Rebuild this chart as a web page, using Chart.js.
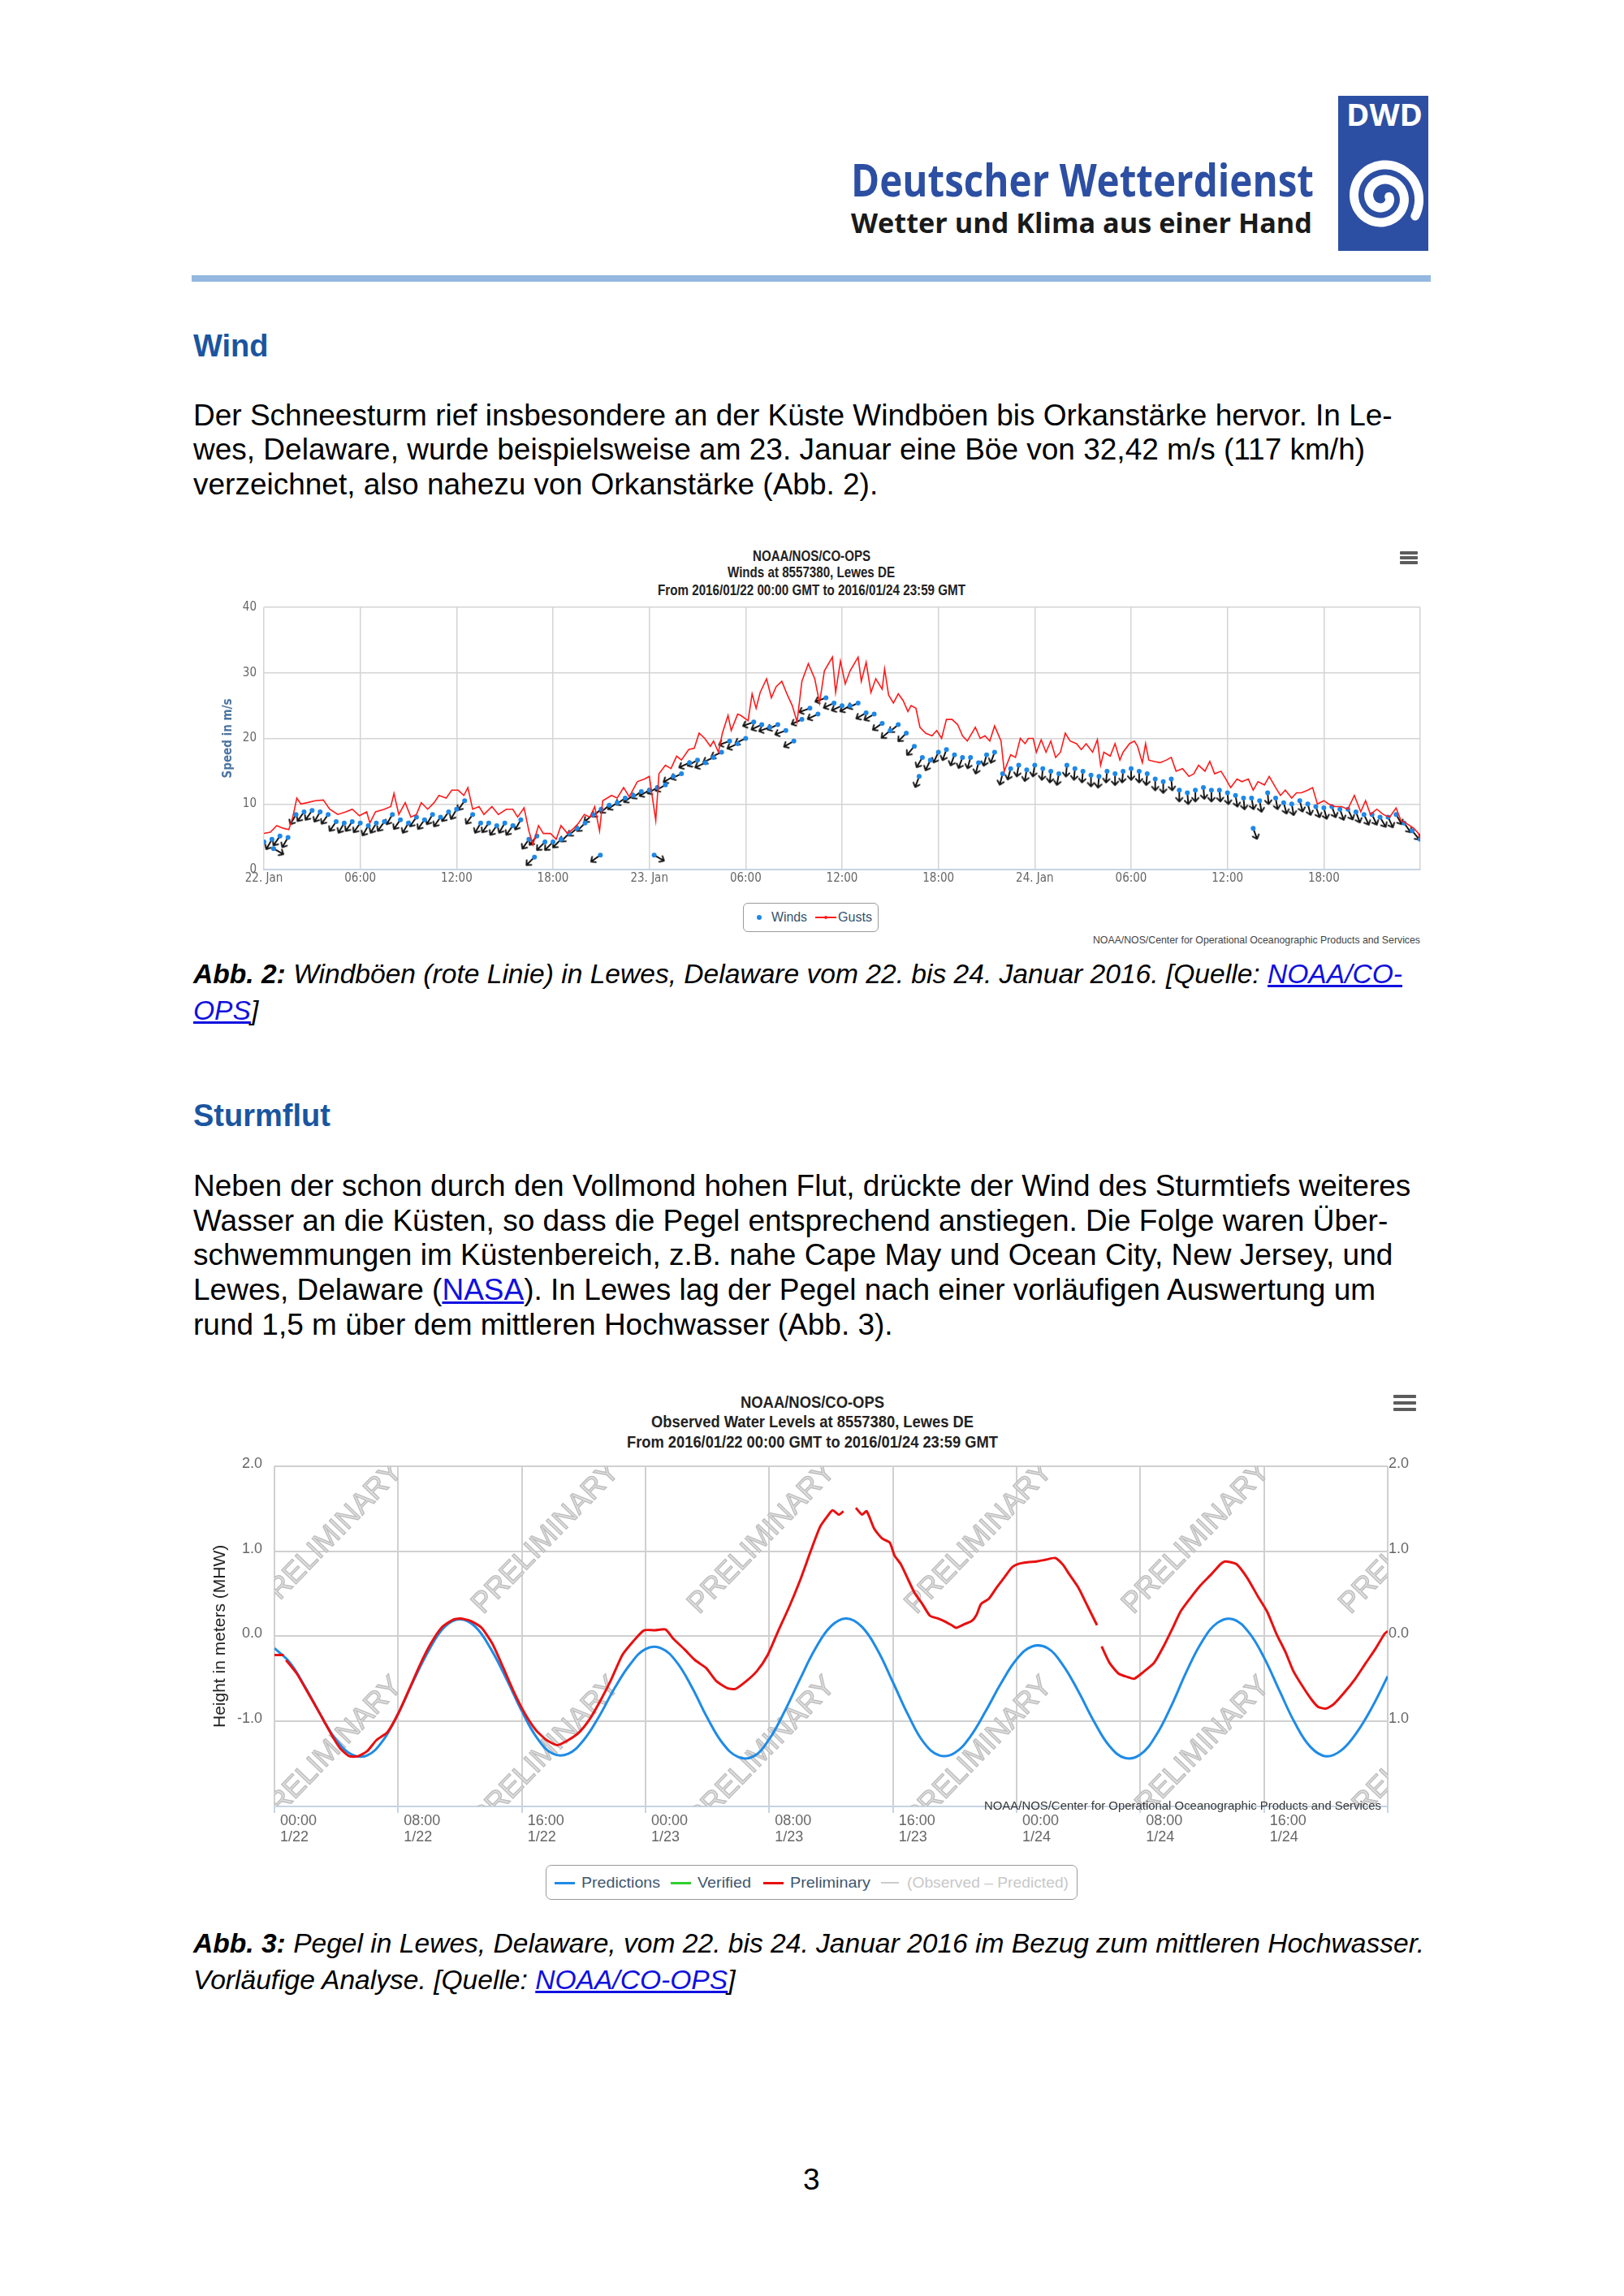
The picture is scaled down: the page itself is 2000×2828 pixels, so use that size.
<!DOCTYPE html>
<html>
<head>
<meta charset="utf-8">
<script src="https://cdn.jsdelivr.net/npm/chart.js@4.4.1/dist/chart.umd.min.js"></script>
<style>
html, body { margin: 0; padding: 0; background: #fff; }
#page { position: relative; width: 2000px; height: 2828px; overflow: hidden; font-family: 'Liberation Sans', Arial, sans-serif; color: #000; }
.abs { position: absolute; white-space: nowrap; }
.body { font-size: 37px; line-height: 42.6px; left: 238px; }
.h { font-size: 38px; font-weight: bold; color: #1a55a0; left: 238px; line-height: 44px; }
.cap { font-size: 33.6px; line-height: 45px; font-style: italic; left: 238px; }
a { color: #1010e0; text-decoration: underline; }
.fit { position: absolute; white-space: nowrap; line-height: 1; transform-origin: 0 50%; }
canvas { position: absolute; }
.bar { position: absolute; background: #5c5c5c; border-radius: 1px; }
.legbox { position: absolute; border: 1.5px solid #9a9a9a; border-radius: 6px; box-sizing: border-box; }
.legline { position: absolute; height: 3px; }
</style>
</head>
<body>
<div id="page">

<!-- Kopf mit Logo -->
<svg class="abs" style="left:0;top:0" width="2000" height="360">
  <text x="1048" y="242" font-family="Open Sans" font-weight="700" font-size="56" fill="#2c4fa3" textLength="570" lengthAdjust="spacingAndGlyphs">Deutscher Wetterdienst</text>
  <text x="1048" y="287" font-family="Open Sans" font-weight="700" font-size="34" fill="#1a1a1a" textLength="568" lengthAdjust="spacingAndGlyphs">Wetter und Klima aus einer Hand</text>
  <rect x="1648" y="118" width="111" height="191" fill="#2c4fa3"/>
  <text x="1658" y="155" font-family="Open Sans" font-weight="700" font-size="37" fill="#fff" textLength="94" lengthAdjust="spacingAndGlyphs">DWD</text>
  <path id="spiral" d="" fill="none" stroke="#fff" stroke-width="11" stroke-linecap="round"/>
  <rect x="236" y="339" width="1526" height="8" fill="#94b8e0"/>
</svg>

<!-- Wind -->
<div class="abs h" style="top:404px">Wind</div>
<div class="abs body" style="top:491px">Der Schneesturm rief insbesondere an der Küste Windböen bis Orkanstärke hervor. In Le-</div>
<div class="abs body" style="top:533px">wes, Delaware, wurde beispielsweise am 23. Januar eine Böe von 32,42 m/s (117 km/h)</div>
<div class="abs body" style="top:576px">verzeichnet, also nahezu von Orkanstärke (Abb. 2).</div>

<div class="fit" data-w="145" style="left:927px;top:675px;font-size:19px;font-weight:bold;color:#222">NOAA/NOS/CO-OPS</div>
<div class="fit" data-w="206" style="left:896px;top:695px;font-size:19px;font-weight:bold;color:#222">Winds at 8557380, Lewes DE</div>
<div class="fit" data-w="379" style="left:810px;top:717px;font-size:19px;font-weight:bold;color:#222">From 2016/01/22 00:00 GMT to 2016/01/24 23:59 GMT</div>
<div class="bar" style="left:1724px;top:679px;width:22px;height:3.5px"></div>
<div class="bar" style="left:1724px;top:685px;width:22px;height:3.5px"></div>
<div class="bar" style="left:1724px;top:691px;width:22px;height:3.5px"></div>

<canvas id="windChart" width="1540" height="370" style="left:234px;top:730px"></canvas>

<div class="legbox" style="left:915px;top:1112px;width:167px;height:36px"></div>
<div class="abs" style="left:932px;top:1127px;width:6px;height:6px;border-radius:3px;background:#1e88e8"></div>
<div class="fit" data-w="44" style="left:950px;top:1122px;font-size:16px;color:#34516f">Winds</div>
<div class="legline" style="left:1004px;top:1129px;width:26px;height:2px;background:#ff1a1a"></div>
<div class="abs" style="left:1015px;top:1128px;width:4px;height:4px;border-radius:2px;background:#ff1a1a"></div>
<div class="fit" data-w="42" style="left:1032px;top:1122px;font-size:16px;color:#34516f">Gusts</div>
<div class="fit" data-w="403" style="left:1346px;top:1151px;font-size:13px;color:#444">NOAA/NOS/Center for Operational Oceanographic Products and Services</div>

<div class="abs cap" style="top:1177px"><b>Abb. 2:</b> Windböen (rote Linie) in Lewes, Delaware vom 22. bis 24. Januar 2016. [Quelle: <a>NOAA/CO-</a></div>
<div class="abs cap" style="top:1222px"><a>OPS</a>]</div>

<!-- Sturmflut -->
<div class="abs h" style="top:1352px">Sturmflut</div>
<div class="abs body" style="top:1440px">Neben der schon durch den Vollmond hohen Flut, drückte der Wind des Sturmtiefs weiteres</div>
<div class="abs body" style="top:1483px">Wasser an die Küsten, so dass die Pegel entsprechend anstiegen. Die Folge waren Über-</div>
<div class="abs body" style="top:1525px">schwemmungen im Küstenbereich, z.B. nahe Cape May und Ocean City, New Jersey, und</div>
<div class="abs body" style="top:1568px">Lewes, Delaware (<a>NASA</a>). In Lewes lag der Pegel nach einer vorläufigen Auswertung um</div>
<div class="abs body" style="top:1611px">rund 1,5 m über dem mittleren Hochwasser (Abb. 3).</div>

<div class="fit" data-w="177" style="left:912px;top:1717px;font-size:20px;font-weight:bold;color:#222">NOAA/NOS/CO-OPS</div>
<div class="fit" data-w="397" style="left:802px;top:1741px;font-size:20px;font-weight:bold;color:#222">Observed Water Levels at 8557380, Lewes DE</div>
<div class="fit" data-w="457" style="left:772px;top:1766px;font-size:20px;font-weight:bold;color:#222">From 2016/01/22 00:00 GMT to 2016/01/24 23:59 GMT</div>
<div class="bar" style="left:1716px;top:1718px;width:28px;height:4px"></div>
<div class="bar" style="left:1716px;top:1726px;width:28px;height:4px"></div>
<div class="bar" style="left:1716px;top:1734px;width:28px;height:4px"></div>

<canvas id="waterChart" width="1540" height="500" style="left:234px;top:1780px"></canvas>
<div class="fit" data-w="489" style="left:1212px;top:2216px;font-size:15px;color:#383838">NOAA/NOS/Center for Operational Oceanographic Products and Services</div>

<div class="legbox" style="left:672px;top:2297px;width:655px;height:43px;border-radius:7px"></div>
<div class="legline" style="left:683px;top:2318px;width:25px;background:#1e8be6"></div>
<div class="fit" data-w="97" style="left:716px;top:2309px;font-size:19px;color:#3e576f">Predictions</div>
<div class="legline" style="left:826px;top:2318px;width:25px;background:#2fd02f"></div>
<div class="fit" data-w="66" style="left:859px;top:2309px;font-size:19px;color:#3e576f">Verified</div>
<div class="legline" style="left:940px;top:2318px;width:25px;background:#e81010"></div>
<div class="fit" data-w="99" style="left:973px;top:2309px;font-size:19px;color:#3e576f">Preliminary</div>
<div class="legline" style="left:1085px;top:2318px;width:22px;height:2px;background:#cccccc"></div>
<div class="fit" data-w="199" style="left:1117px;top:2309px;font-size:19px;color:#c8c8c8">(Observed – Predicted)</div>

<div class="abs cap" style="top:2371px"><b>Abb. 3:</b> Pegel in Lewes, Delaware, vom 22. bis 24. Januar 2016 im Bezug zum mittleren Hochwasser.</div>
<div class="abs cap" style="top:2416px">Vorläufige Analyse. [Quelle: <a>NOAA/CO-OPS</a>]</div>

<div class="abs body" style="left:989px;top:2664px">3</div>
</div>

<script>
// ---- Abb. 2: Wind (Stunden ab 22.01. 00:00 GMT, m/s) ----
const windTickLabels = ['22. Jan', '06:00', '12:00', '18:00', '23. Jan', '06:00', '12:00', '18:00', '24. Jan', '06:00', '12:00', '18:00', ''];

const gustHours = [
  0, 0.4, 0.8, 1.2, 1.55, 1.8, 2.05, 2.3, 2.7, 3.2, 3.7, 4.1, 4.6, 5.1, 5.5, 5.95, 6.4, 6.6, 6.95, 7.5,
  7.9, 8.1, 8.4, 8.8, 9.15, 9.5, 9.8, 10.2, 10.6, 10.9, 11.35, 11.7, 12.1, 12.45, 12.7, 13.0, 13.4, 13.7, 14.2, 14.6,
  15.1, 15.5, 15.8, 16.2, 16.5, 16.75, 17.1, 17.4, 17.85, 18.2, 18.5, 18.9, 19.3, 19.6, 19.95, 20.3, 20.6, 20.9, 21.1, 21.65,
  22.0, 22.4, 22.75, 23.25, 23.7, 24.0, 24.4, 24.6, 25.0, 25.35, 25.7, 26.0, 26.45, 26.8, 27.1, 27.45, 27.8, 28.0, 28.3, 28.55,
  28.9, 29.1, 29.5, 29.7, 30.15, 30.4, 30.65, 30.9, 31.3, 31.6, 31.9, 32.25, 32.6, 32.9, 33.2, 33.5, 33.9, 34.3, 34.6, 34.9,
  35.4, 35.6, 35.9, 36.2, 36.5, 37.0, 37.2, 37.5, 37.8, 38.1, 38.5, 38.65, 38.9, 39.2, 39.5, 39.8, 40.1, 40.3, 40.6, 40.85,
  41.2, 41.6, 41.9, 42.2, 42.5, 42.85, 43.2, 43.5, 43.8, 44.3, 44.6, 44.9, 45.2, 45.5, 45.9, 46.1, 46.5, 46.8, 47.1, 47.4,
  47.6, 47.9, 48.1, 48.4, 48.7, 49.0, 49.3, 49.6, 49.9, 50.2, 50.6, 50.9, 51.2, 51.6, 51.9, 52.1, 52.3, 52.7, 53.0, 53.3,
  53.5, 53.9, 54.2, 54.4, 54.7, 54.9, 55.1, 55.4, 55.8, 56.2, 56.5, 56.8, 57.2, 57.6, 57.9, 58.2, 58.6, 58.9, 59.2, 59.6,
  59.9, 60.2, 60.6, 60.9, 61.3, 61.6, 61.9, 62.3, 62.6, 63.0, 63.3, 63.6, 64.0, 64.3, 64.6, 65.0, 65.3, 65.6, 66.0, 66.3,
  66.7, 67.1, 67.5, 67.9, 68.3, 68.6, 68.9, 69.3, 69.7, 70.1, 70.5, 70.8, 71.1, 71.6, 71.9, 72.0
];
const gustSpeeds = [
  5.5, 5.7, 6.7, 6.3, 6.1, 8.0, 10.9, 10.0, 10.2, 10.5, 10.6, 9.2, 8.4, 8.8, 9.2, 8.2, 8.8, 7.1, 8.8, 9.2,
  9.6, 11.6, 8.4, 10.2, 8.0, 8.4, 10.2, 9.2, 10.2, 11.3, 10.9, 12.1, 12.1, 11.3, 12.5, 9.2, 9.6, 8.4, 9.6, 8.4,
  9.2, 9.2, 8.0, 9.4, 5.9, 3.8, 6.7, 5.5, 5.5, 4.6, 6.7, 5.5, 6.3, 7.1, 8.4, 8.0, 9.6, 5.9, 10.5, 11.3,
  10.9, 12.5, 11.1, 13.4, 13.8, 14.2, 7.5, 14.6, 15.9, 15.4, 17.3, 16.7, 18.3, 18.5, 20.8, 20.0, 18.8, 19.6, 17.9, 20.8,
  23.5, 21.2, 23.7, 23.5, 22.7, 26.8, 24.6, 27.0, 29.1, 26.2, 27.9, 28.7, 26.6, 25.0, 22.5, 28.7, 31.4, 29.1, 25.4, 30.3,
  32.4, 27.0, 31.8, 28.3, 30.3, 32.4, 28.7, 31.6, 27.0, 29.1, 27.5, 30.6, 26.6, 25.4, 26.8, 25.8, 24.1, 25.0, 24.6, 21.7,
  20.8, 20.4, 21.2, 20.0, 22.9, 22.9, 22.1, 20.4, 19.6, 21.7, 20.0, 20.4, 19.6, 21.9, 19.6, 15.0, 17.5, 17.1, 20.0, 19.2,
  20.0, 20.0, 17.9, 19.8, 17.9, 19.6, 17.1, 17.9, 20.8, 19.6, 19.2, 18.3, 19.2, 17.9, 19.8, 15.9, 17.9, 17.3, 19.2, 16.7,
  17.9, 19.2, 19.6, 18.8, 16.3, 19.2, 16.7, 16.5, 16.3, 16.7, 17.1, 15.0, 15.4, 14.2, 14.6, 15.9, 15.0, 16.5, 14.6, 15.0,
  13.8, 12.5, 13.8, 13.4, 13.8, 12.1, 13.4, 12.9, 14.2, 12.5, 11.3, 12.1, 10.9, 11.7, 11.7, 12.1, 12.5, 10.0, 10.5, 10.0,
  9.6, 9.6, 9.2, 11.3, 8.8, 10.5, 8.4, 9.2, 8.4, 8.0, 9.4, 7.5, 7.1, 6.3, 5.5, 4.6
];

const windHours = [
  0, 0.5, 0.6, 1, 1.5, 2, 2.5, 3, 3.5, 4, 4.5, 5, 5.5, 6, 6.5, 7, 7.5, 8, 8.5, 9,
  9.5, 10, 10.5, 11, 11.5, 12, 12.5, 13, 13.5, 14, 14.5, 15, 15.5, 16, 16.5, 16.85, 17, 17.5, 18, 18.5,
  19, 19.5, 20, 20.5, 20.95, 21, 21.5, 22, 22.5, 23, 23.5, 24, 24.3, 24.5, 25, 25.5, 26, 26.5, 27, 27.5,
  28, 28.5, 29, 29.5, 30, 30.5, 31, 31.5, 32, 32.5, 33, 33.5, 34, 34.5, 35, 35.5, 36, 36.5, 37, 37.5,
  38, 38.5, 39, 39.5, 40, 40.5, 40.8, 41, 41.5, 42, 42.5, 43, 43.5, 44, 44.5, 45, 45.5, 46, 46.5, 47,
  47.5, 48, 48.5, 49, 49.5, 50, 50.5, 51, 51.5, 52, 52.5, 53, 53.5, 54, 54.5, 55, 55.5, 56, 56.5, 57,
  57.5, 58, 58.5, 59, 59.5, 60, 60.5, 61, 61.5, 61.6, 62, 62.5, 63, 63.5, 64, 64.5, 65, 65.5, 66, 66.5,
  67, 67.5, 68, 68.5, 69, 69.5, 70, 70.5, 71, 71.5, 72
];
const windSpeeds = [
  4.2, 4.6, 3.2, 5.1, 4.9, 8.4, 8.8, 9.0, 8.8, 8.4, 7.3, 7.1, 7.3, 7.1, 6.7, 7.1, 7.3, 8.4, 7.6, 7.1,
  8.0, 7.6, 8.4, 8.0, 8.8, 9.2, 10.5, 8.4, 7.1, 7.1, 6.7, 7.1, 6.7, 7.6, 4.6, 1.9, 5.1, 4.2, 4.2, 4.6,
  5.5, 6.3, 7.1, 8.4, 2.2, 9.2, 9.8, 10.2, 10.9, 11.3, 11.9, 12.1, 2.2, 12.5, 12.9, 14.2, 14.6, 16.3, 16.7, 16.3,
  17.1, 17.9, 19.6, 19.2, 20.0, 22.5, 22.1, 21.7, 22.1, 21.2, 19.6, 22.9, 24.6, 23.7, 26.2, 25.4, 25.0, 25.0, 25.4, 23.9,
  23.7, 22.3, 21.2, 22.1, 20.8, 18.8, 14.2, 17.1, 16.7, 17.9, 18.3, 17.5, 17.1, 17.1, 16.3, 17.5, 17.9, 14.6, 15.4, 15.9,
  15.2, 15.9, 15.4, 15.0, 14.6, 15.9, 15.4, 15.0, 14.4, 14.2, 15.0, 14.6, 15.0, 15.4, 15.0, 14.6, 13.8, 13.4, 13.8, 12.1,
  11.7, 12.1, 12.5, 12.1, 12.1, 11.7, 11.3, 10.9, 10.9, 6.3, 10.5, 11.7, 10.9, 10.2, 10.0, 10.5, 10.0, 9.6, 9.4, 9.6,
  9.2, 9.2, 8.8, 8.4, 8.4, 8.0, 8.0, 8.4, 7.1, 5.9, 4.6
];
// Windrichtung (woher, Grad)
const windDirs = [
  35, 30, 300, 35, 30, 30, 35, 35, 30, 35, 35, 30, 35, 35, 30, 30, 35, 30, 35, 30,
  35, 35, 30, 35, 35, 30, 35, 35, 30, 35, 35, 30, 35, 30, 35, 45, 40, 45, 45, 45,
  45, 50, 45, 50, 55, 50, 50, 55, 55, 55, 55, 60, 300, 60, 60, 60, 65, 65, 60, 65,
  65, 65, 70, 65, 65, 70, 65, 70, 65, 70, 60, 65, 70, 65, 70, 65, 65, 60, 65, 60,
  60, 55, 50, 50, 45, 40, 20, 30, 25, 25, 20, 20, 20, 15, 15, 15, 20, 15, 15, 10,
  10, 10, 5, 5, 10, 5, 5, 5, 0, 5, 5, 0, 5, 0, 0, 5, 0, 0, 355, 0,
  355, 0, 355, 0, 355, 355, 350, 355, 350, 340, 350, 355, 350, 345, 350, 345, 345, 340, 345, 340,
  340, 335, 340, 335, 335, 330, 335, 330, 325, 320, 315
];

// ---- Abb. 3: Pegel (Stunden ab 22.01. 00:00 GMT, m über MHW) ----
const waterTickLabels = [['00:00', '1/22'], ['08:00', '1/22'], ['16:00', '1/22'], ['00:00', '1/23'], ['08:00', '1/23'], ['16:00', '1/23'], ['00:00', '1/24'], ['08:00', '1/24'], ['16:00', '1/24'], ''];
const heightTickLabels = ['', '-1.0', '0.0', '1.0', '2.0'];

const predHours = [
  0, 1, 2, 3, 4, 5, 6, 7, 8, 9, 10, 11, 12, 13, 14, 15, 16, 17, 18, 19, 20, 21, 22, 23, 24,
  25, 26, 27, 28, 29, 30, 31, 32, 33, 34, 35, 36, 37, 38, 39, 40, 41, 42, 43, 44, 45, 46, 47, 48,
  49, 50, 51, 52, 53, 54, 55, 56, 57, 58, 59, 60, 61, 62, 63, 64, 65, 66, 67, 68, 69, 70, 71, 72
];
const predValues = [
  -0.14, -0.31, -0.60, -0.93, -1.22, -1.39, -1.40, -1.23, -0.91, -0.52, -0.16, 0.11, 0.20, 0.11, -0.15, -0.50, -0.88, -1.20, -1.38, -1.38, -1.22, -0.94, -0.61, -0.33, -0.15,
  -0.14, -0.30, -0.60, -0.96, -1.26, -1.42, -1.41, -1.21, -0.88, -0.50, -0.14, 0.12, 0.21, 0.11, -0.16, -0.54, -0.93, -1.25, -1.40, -1.37, -1.18, -0.88, -0.55, -0.27,
  -0.12, -0.14, -0.34, -0.65, -1.00, -1.29, -1.43, -1.39, -1.17, -0.82, -0.41, -0.06, 0.16, 0.20, 0.05, -0.25, -0.64, -1.02, -1.30, -1.41, -1.34, -1.13, -0.83, -0.47
];

const prelimHours = [
  0, 0.6, 0.7, 0.75, 1.45, 2.15, 2.85, 3.3, 3.8, 4.26, 4.85, 5.4, 6.0, 6.6, 7.3, 8.0, 8.7, 9.4, 10.1, 10.8,
  11.5, 12.0, 12.7, 13.4, 14.1, 14.8, 15.5, 16.2, 16.9, 17.6, 18.3, 19.0, 19.7, 20.4, 21.1, 21.8, 22.5, 23.2, 23.9, 24.6,
  25.3, 25.8, 26.5, 27.2, 27.9, 28.6, 29.3, 29.8, 30.5, 31.2, 31.9, 32.6, 33.3, 34.0, 34.7, 35.3, 35.8, 36.1, 36.5, 36.8,
  37.2, 37.6, 38.0, 38.3, 38.8, 39.3, 39.8, 40.1, 40.5, 41.0, 41.4, 41.9, 42.4, 42.9, 43.3, 43.8, 44.1, 44.6, 45.1, 45.4,
  45.7, 46.2, 46.7, 47.2, 47.7, 48.1, 48.7, 49.3, 49.9, 50.5, 51.0, 51.4, 52.0, 52.6, 53.2, 53.35, 53.5, 54.0, 54.6, 55.2,
  55.6, 56.2, 56.9, 57.5, 58.1, 58.6, 59.2, 59.9, 60.6, 61.2, 61.5, 62.2, 62.9, 63.6, 64.2, 64.8, 65.4, 65.9, 66.5, 67.1,
  67.5, 68.0, 68.5, 69.2, 69.9, 70.6, 71.2, 71.8, 72.0
];
const prelimValues = [
  -0.22, -0.22, null, -0.28, -0.44, -0.66, -0.88, -1.03, -1.19, -1.32, -1.41, -1.41, -1.35, -1.22, -1.13, -0.91, -0.63, -0.34, -0.09, 0.10,
  0.19, 0.21, 0.18, 0.10, -0.09, -0.37, -0.66, -0.91, -1.10, -1.22, -1.28, -1.22, -1.13, -0.97, -0.75, -0.50, -0.22, -0.06, 0.07, 0.07,
  0.08, -0.03, -0.15, -0.28, -0.37, -0.53, -0.61, -0.62, -0.53, -0.41, -0.22, 0.07, 0.35, 0.66, 1.01, 1.29, 1.42, 1.48, 1.43, 1.47,
  null, 1.51, 1.43, 1.47, 1.26, 1.15, 1.10, 0.95, 0.85, 0.66, 0.51, 0.38, 0.24, 0.21, 0.18, 0.13, 0.10, 0.14, 0.18, 0.25,
  0.38, 0.44, 0.57, 0.69, 0.81, 0.85, 0.87, 0.88, 0.90, 0.92, 0.84, 0.73, 0.57, 0.35, 0.13, null, -0.12, -0.31, -0.44, -0.48,
  -0.50, -0.42, -0.31, -0.12, 0.10, 0.29, 0.44, 0.60, 0.73, 0.85, 0.88, 0.85, 0.69, 0.47, 0.29, 0.03, -0.19, -0.41, -0.59, -0.75,
  -0.83, -0.85, -0.80, -0.66, -0.50, -0.31, -0.15, 0.03, 0.06
];

const narrow = "'Liberation Sans Narrow', 'DejaVu Sans Condensed', 'Liberation Sans', sans-serif";

// Pfeil fuer die Windrichtung, zeigt nach rechts, Mitte = Messpunkt
function makeArrow() {
  const c = document.createElement('canvas');
  c.width = 34; c.height = 34;
  const g = c.getContext('2d');
  g.strokeStyle = '#161616';
  g.lineWidth = 2;
  g.lineCap = 'round';
  g.beginPath();
  g.moveTo(17, 17); g.lineTo(31, 17);
  g.moveTo(31, 17); g.lineTo(26.5, 13);
  g.moveTo(31, 17); g.lineTo(26.5, 21);
  g.stroke();
  return c;
}
const arrowImg = makeArrow();

const toPoints = (xs, ys) => xs.map((x, i) => ({ x: x, y: ys[i] }));

new Chart(document.getElementById('windChart'), {
  type: 'scatter',
  data: {
    datasets: [
      { label: 'Gusts', data: toPoints(gustHours, gustSpeeds), showLine: true, borderColor: '#ff1a1a', borderWidth: 1.6, pointRadius: 0, tension: 0 },
      { label: 'Winds', data: toPoints(windHours, windSpeeds), pointStyle: 'circle', pointRadius: 3, pointBackgroundColor: '#1e88e8', pointBorderWidth: 0 },
      { label: 'Richtung', data: toPoints(windHours, windSpeeds), pointStyle: arrowImg, pointRotation: ctx => windDirs[ctx.dataIndex] + 90 }
    ]
  },
  options: {
    responsive: false, animation: false, devicePixelRatio: 1,
    layout: { padding: { top: 18, right: 25, bottom: 0, left: 0 } },
    plugins: { legend: { display: false }, tooltip: { enabled: false } },
    scales: {
      x: {
        type: 'linear', min: 0, max: 72,
        ticks: { stepSize: 6, maxTicksLimit: 20, autoSkip: false, maxRotation: 0, padding: 2, color: '#666', font: { family: narrow, size: 15 },
          callback: (v, i) => windTickLabels[i] },
        grid: { color: '#d4d4d4', lineWidth: 1.5, drawTicks: false },
        border: { color: '#c6d4e4', width: 2 },
        afterFit: s => { s.height = 29; }
      },
      y: {
        min: 0, max: 40,
        ticks: { stepSize: 10, padding: 9, color: '#666', font: { family: narrow, size: 15 } },
        grid: { color: '#d4d4d4', lineWidth: 1.5, drawTicks: false },
        border: { display: false },
        title: { display: true, text: 'Speed in m/s', color: '#4a74a0', font: { family: narrow, size: 15, weight: 'bold' }, padding: { top: 38, bottom: 0 } },
        afterFit: s => { s.width = 91; }
      }
    }
  }
});

// Wasserzeichen im Plotbereich (relative Lage)
const wmCols = [0.049, 0.244, 0.438, 0.633, 0.828, 1.023];
const wmRows = [0.212, 0.842];
const watermark = {
  id: 'watermark',
  beforeDatasetsDraw(chart) {
    const a = chart.chartArea, g = chart.ctx;
    g.save();
    g.beginPath(); g.rect(a.left, a.top, a.right - a.left, a.bottom - a.top); g.clip();
    g.font = '36px "Liberation Sans", Arial, sans-serif';
    g.textAlign = 'center'; g.textBaseline = 'middle';
    g.fillStyle = '#dedede'; g.strokeStyle = '#bdbdbd'; g.lineWidth = 1.3;
    wmRows.forEach(r => wmCols.forEach(c => {
      g.save();
      g.translate(a.left + c * (a.right - a.left), a.top + r * (a.bottom - a.top));
      g.rotate(-46 * Math.PI / 180);
      g.fillText('PRELIMINARY', 0, 0);
      g.strokeText('PRELIMINARY', 0, 0);
      g.restore();
    }));
    g.restore();
  }
};

new Chart(document.getElementById('waterChart'), {
  type: 'scatter',
  data: {
    datasets: [
      { label: 'Preliminary', data: toPoints(prelimHours, prelimValues), showLine: true, spanGaps: false, borderColor: '#e81010', borderWidth: 3, pointRadius: 0, tension: 0.2 },
      { label: 'Predictions', data: toPoints(predHours, predValues), showLine: true, borderColor: '#1e8be6', borderWidth: 3, pointRadius: 0, tension: 0.4 },
      { label: 'Verified', data: [], showLine: true, borderColor: '#2fd02f', pointRadius: 0 }
    ]
  },
  options: {
    responsive: false, animation: false, devicePixelRatio: 1,
    layout: { padding: { top: 21, right: 39, bottom: 0, left: 0 } },
    plugins: { legend: { display: false }, tooltip: { enabled: false } },
    scales: {
      x: {
        type: 'linear', min: 0, max: 72,
        ticks: { stepSize: 8, maxTicksLimit: 20, autoSkip: false, maxRotation: 0, align: 'start', labelOffset: 7, padding: 0, color: '#666',
          font: { family: "'Liberation Sans', Arial, sans-serif", size: 18, lineHeight: 1.1 },
          callback: (v, i) => waterTickLabels[i] },
        grid: { color: '#d0d0d0', lineWidth: 2, drawTicks: true, tickLength: 8, tickColor: '#c6d4e4' },
        border: { color: '#c6d4e4', width: 2 },
        afterFit: s => { s.height = 55; }
      },
      y: {
        min: -2, max: 2,
        ticks: { stepSize: 1, padding: 15, labelOffset: -3, color: '#666', font: { family: "'Liberation Sans', Arial, sans-serif", size: 18 },
          callback: (v, i) => heightTickLabels[i] },
        grid: { color: '#d0d0d0', lineWidth: 2, drawTicks: false },
        border: { display: false },
        title: { display: true, text: 'Height in meters (MHW)', color: '#222', font: { family: "'Liberation Sans', Arial, sans-serif", size: 21 }, padding: { top: 25, bottom: 0 } },
        afterFit: s => { s.width = 104; }
      },
      y2: {
        position: 'right', min: -2, max: 2,
        ticks: { stepSize: 1, crossAlign: 'far', labelOffset: -3, color: '#666', font: { family: "'Liberation Sans', Arial, sans-serif", size: 18 },
          callback: (v, i) => heightTickLabels[i] },
        grid: { display: false, drawTicks: false },
        border: { display: false },
        afterFit: s => { s.width = 26; }
      }
    }
  },
  plugins: [watermark]
});

// DWD-Spirale im Logo
(function () {
  const cx = 1703, cy = 243;
  let d = '';
  for (let i = 0; i <= 240; i++) {
    const t = i / 240 * 4.2 * Math.PI;
    const r = 46 - t * 2.9;
    const a = Math.PI / 6 - t;
    d += (i ? 'L' : 'M') + (cx + r * Math.cos(a)).toFixed(1) + ' ' + (cy + r * Math.sin(a)).toFixed(1);
  }
  document.getElementById('spiral').setAttribute('d', d);
})();

// Texte auf Zielbreite bringen
function fitAll() {
  document.querySelectorAll('.fit').forEach(el => {
    el.style.transform = 'none';
    const w = el.getBoundingClientRect().width;
    el.style.transform = 'scaleX(' + (Number(el.dataset.w) / w) + ')';
  });
}
fitAll();
if (document.fonts) document.fonts.ready.then(fitAll);
</script>
</body>
</html>
